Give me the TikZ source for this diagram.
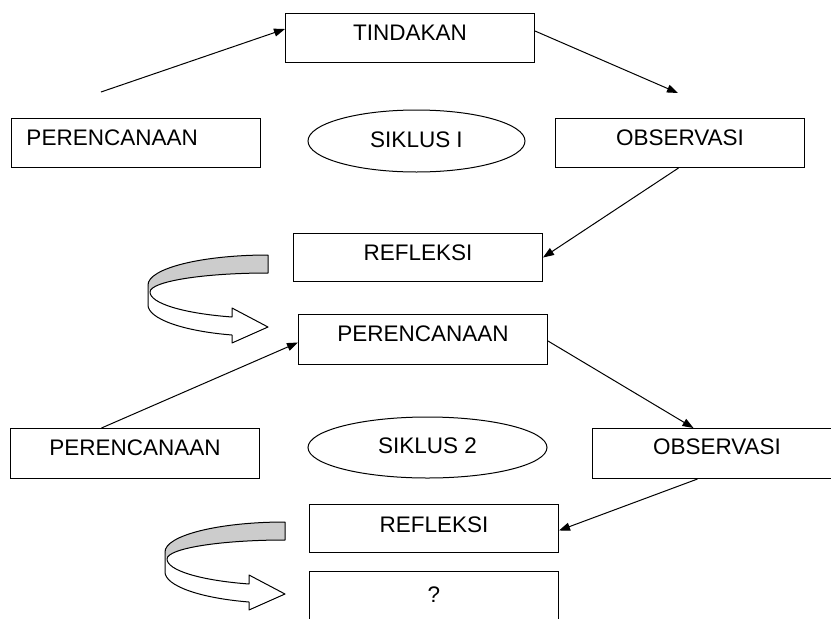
\documentclass[tikz,border=0pt]{standalone}
\usepackage{fontspec}
\setmainfont{Liberation Sans}
\usetikzlibrary{arrows.meta,shapes.geometric}
\tikzset{
  box/.style={draw, line width=1pt, anchor=north west, minimum width=249pt,
    inner sep=0pt, text height=27pt, text depth=22pt,
    font=\fontsize{22.5}{27}\selectfont},
  ell/.style={draw, ellipse, line width=1pt, inner sep=0pt,
    text height=16pt, text depth=4pt, font=\fontsize{22.5}{27}\selectfont},
  conn/.style={line width=1pt, -{Triangle[length=11pt,width=8pt]}},
  uturn/.pic={
    \fill[gray!40] (268,255) .. controls (201.7,255) and (148,268.4) .. (148,285)
      -- (150,292) .. controls (150,281.5) and (202.8,273) .. (268,273) -- cycle;
    \draw[line width=1pt, line join=round] (268,255)
      .. controls (201.7,255) and (148,268.4) .. (148,285) -- (148,305)
      .. controls (148,318.5) and (182,331) .. (232,335) -- (232,343) -- (268,327)
      -- (232,308) -- (232,317)
      .. controls (183.3,313.4) and (150,303.3) .. (150,292)
      .. controls (150,281.5) and (202.8,273) .. (268,273) -- cycle;
  }
}
\begin{document}
\begin{tikzpicture}[x=1pt,y=-1pt]
\useasboundingbox (0,0) rectangle (831,619);
\clip (0,0) rectangle (831,619);
\fill[white] (0,0) rectangle (831,619);
% boxes
\node[box] (tind) at (285,13) {TINDAKAN};
\node[box, align=left, text width=219pt, inner xsep=15pt, minimum width=248pt] (pere1) at (11,118) {PERENCANAAN};
\node[box] (obs1) at (555,118) {OBSERVASI};
\node[box, text depth=21pt] (refl1) at (293,233) {REFLEKSI};
\node[box, text depth=23pt] (pere2) at (298,314) {PERENCANAAN};
\node[box, text depth=23pt] (pere3) at (10,428) {PERENCANAAN};
\node[box, text height=26pt, text depth=24pt] (obs2) at (592,428) {OBSERVASI};
\node[box, text height=28pt, text depth=20pt] (refl2) at (309,504) {REFLEKSI};
\node[box, text height=31pt, text depth=29pt] (q) at (309,571) {?};
% ellipses
\node[ell, minimum width=217pt, minimum height=62pt] (sik1) at (416.5,141) {SIKLUS I};
\node[ell, minimum width=239pt, minimum height=61pt, text depth=5pt] (sik2) at (427.5,447.5) {SIKLUS 2};
% free ends
\coordinate (a1) at (101,92);
\coordinate (a2) at (678,93);
% connectors
\draw[conn] (a1) -- ([yshift=-16pt]tind.north west);
\draw[conn] ([yshift=-18pt]tind.north east) -- (a2);
\draw[conn] ([xshift=-1.5pt]obs1.south) -- (refl1.east);
\draw[conn] ([xshift=-33.5pt]pere3.north) -- ([yshift=-3pt]pere2.west);
\draw[conn] ([yshift=-1.5pt]pere2.east) -- ([xshift=-23.5pt]obs2.north);
\draw[conn] ([xshift=-19.5pt]obs2.south) -- ([yshift=-2pt]refl2.east);
% u-turn arrows
\pic at (0,0) {uturn};
\pic at (17,267) {uturn};
\end{tikzpicture}
\end{document}
